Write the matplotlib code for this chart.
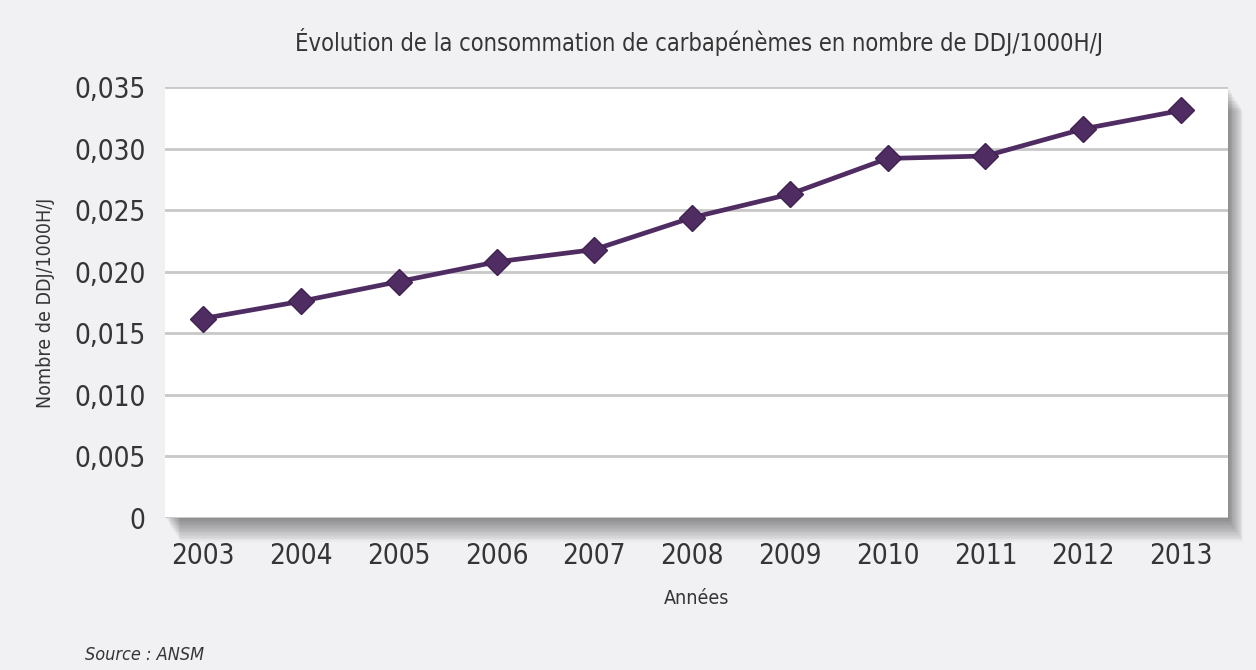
import matplotlib.pyplot as plt
from matplotlib.patches import Rectangle

years = ['2003', '2004', '2005', '2006', '2007', '2008', '2009', '2010', '2011', '2012', '2013']
ddj = [0.0162, 0.0176, 0.0192, 0.0208, 0.0218, 0.0244, 0.0263, 0.0292, 0.0294, 0.0316, 0.0331]
y_ticks = [0, 0.005, 0.010, 0.015, 0.020, 0.025, 0.030, 0.035]
y_labels = ['0', '0,005', '0,010', '0,015', '0,020', '0,025', '0,030', '0,035']

FONT = dict(family='DejaVu Sans', stretch='condensed')
TEXT = '#353535'
PURPLE = '#4f2d63'

fig = plt.figure(figsize=(12.56, 6.7), dpi=100)
fig.patch.set_facecolor('#f1f1f3')

left, bottom, width, height = 0.1314, 0.2269, 0.8463, 0.6432
ax = fig.add_axes([left, bottom, width, height])
ax.set_zorder(2)

# soft drop shadow to the right and below the plot panel
W, H = 1256, 670
for k in range(1, 18):
    fig.patches.append(Rectangle((left + k / W * 0.9, bottom - k / H * 1.4), width, height,
                                 transform=fig.transFigure, facecolor='#000000',
                                 alpha=0.028, edgecolor='none', zorder=0))

ax.set_facecolor('white')
x = list(range(len(years)))
ax.plot(x, ddj, color=PURPLE, linewidth=3.4, marker='D', markersize=13,
        markerfacecolor=PURPLE, markeredgecolor='#3f2250', zorder=3)

ax.set_xlim(-0.39, 10.48)
ax.set_ylim(0, 0.035)
ax.set_yticks(y_ticks)
ax.set_yticklabels(y_labels, fontsize=20, color=TEXT, **FONT)
ax.set_xticks(x)
ax.set_xticklabels(years, fontsize=20, color=TEXT, **FONT)
ax.tick_params(axis='both', length=0)
ax.tick_params(axis='y', pad=14)
ax.tick_params(axis='x', pad=17)
ax.grid(axis='y', color='#c8c8c8', linewidth=2)
ax.set_axisbelow(True)
for s in ax.spines.values():
    s.set_visible(False)

ax.set_ylabel('Nombre de DDJ/1000H/J', fontsize=14, color=TEXT, labelpad=14, **FONT)
ax.set_xlabel('Années', fontsize=14, color=TEXT, labelpad=14, **FONT)

fig.text(0.5565, 0.937, 'Évolution de la consommation de carbapénèmes en nombre de DDJ/1000H/J',
         ha='center', va='center', fontsize=17, color=TEXT, **FONT)
fig.text(0.068, 0.022, 'Source : ANSM', ha='left', va='center', fontsize=13,
         style='italic', color=TEXT, **FONT)

fig.savefig('out.png', dpi=100, facecolor=fig.get_facecolor())
